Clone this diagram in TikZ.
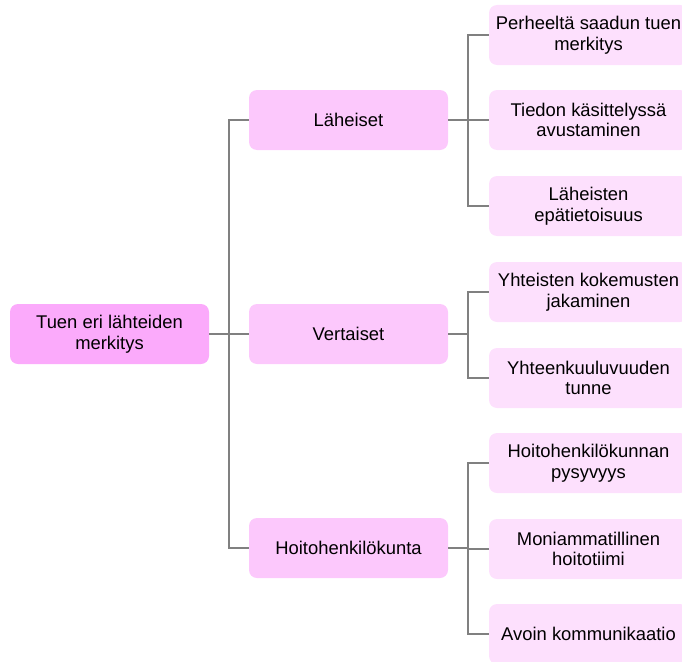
\documentclass[tikz,border=0pt]{standalone}
\usepackage{fontspec}
\setmainfont{Liberation Sans}
\begin{document}
\begin{tikzpicture}[x=1pt,y=-1pt,
  base/.style={rounded corners=8pt, draw=none, align=center, font=\fontsize{18.4}{20.5}\selectfont, inner sep=0pt},
  rootbox/.style={base, fill=rootcol, minimum width=199pt, minimum height=60pt},
  midbox/.style={base, fill=midcol, minimum width=199pt, minimum height=60pt},
  leafbox/.style={base, fill=leafcol, minimum width=199pt, minimum height=60pt},
  conn/.style={draw=linecol, line width=1.8pt}]
\definecolor{rootcol}{RGB}{251,170,251}
\definecolor{midcol}{RGB}{252,200,252}
\definecolor{leafcol}{RGB}{253,224,253}
\definecolor{linecol}{RGB}{128,128,128}
\useasboundingbox (0,0) rectangle (682,661);
\begin{scope}
\clip (0,0) rectangle (682,661);
\node[rootbox] (root) at (109.5,334) {Tuen eri lähteiden\\merkitys};
\node[midbox] (m1) at (348.5,120) {Läheiset};
\node[midbox] (m2) at (348.5,334) {Vertaiset};
\node[midbox] (m3) at (348.5,548) {Hoitohenkilökunta};
\node[leafbox] (l1) at (588.5,35) {Perheeltä saadun tuen\\merkitys};
\node[leafbox] (l2) at (588.5,120) {Tiedon käsittelyssä\\avustaminen};
\node[leafbox] (l3) at (588.5,206) {Läheisten\\epätietoisuus};
\node[leafbox] (l4) at (588.5,292) {Yhteisten kokemusten\\jakaminen};
\node[leafbox] (l5) at (588.5,378) {Yhteenkuuluvuuden\\tunne};
\node[leafbox] (l6) at (588.5,463) {Hoitohenkilökunnan\\pysyvyys};
\node[leafbox] (l7) at (588.5,549) {Moniammatillinen\\hoitotiimi};
\node[leafbox] (l8) at (588.5,634) {Avoin kommunikaatio};
\end{scope}
\coordinate (t0) at (229,334);
\draw[conn] (root.east) -- (t0);
\foreach \m in {m1,m2,m3} \draw[conn] (t0) |- (\m.west);
\coordinate (a1) at (468,120);
\coordinate (a2) at (468,334);
\coordinate (a3) at (468,548);
\draw[conn] (m1.east) -- (a1);
\draw[conn] (m2.east) -- (a2);
\draw[conn] (m3.east) -- (a3);
\foreach \l in {l1,l2,l3} \draw[conn] (a1) |- (\l.west);
\foreach \l in {l4,l5} \draw[conn] (a2) |- (\l.west);
\foreach \l in {l6,l7,l8} \draw[conn] (a3) |- (\l.west);
\end{tikzpicture}
\end{document}
